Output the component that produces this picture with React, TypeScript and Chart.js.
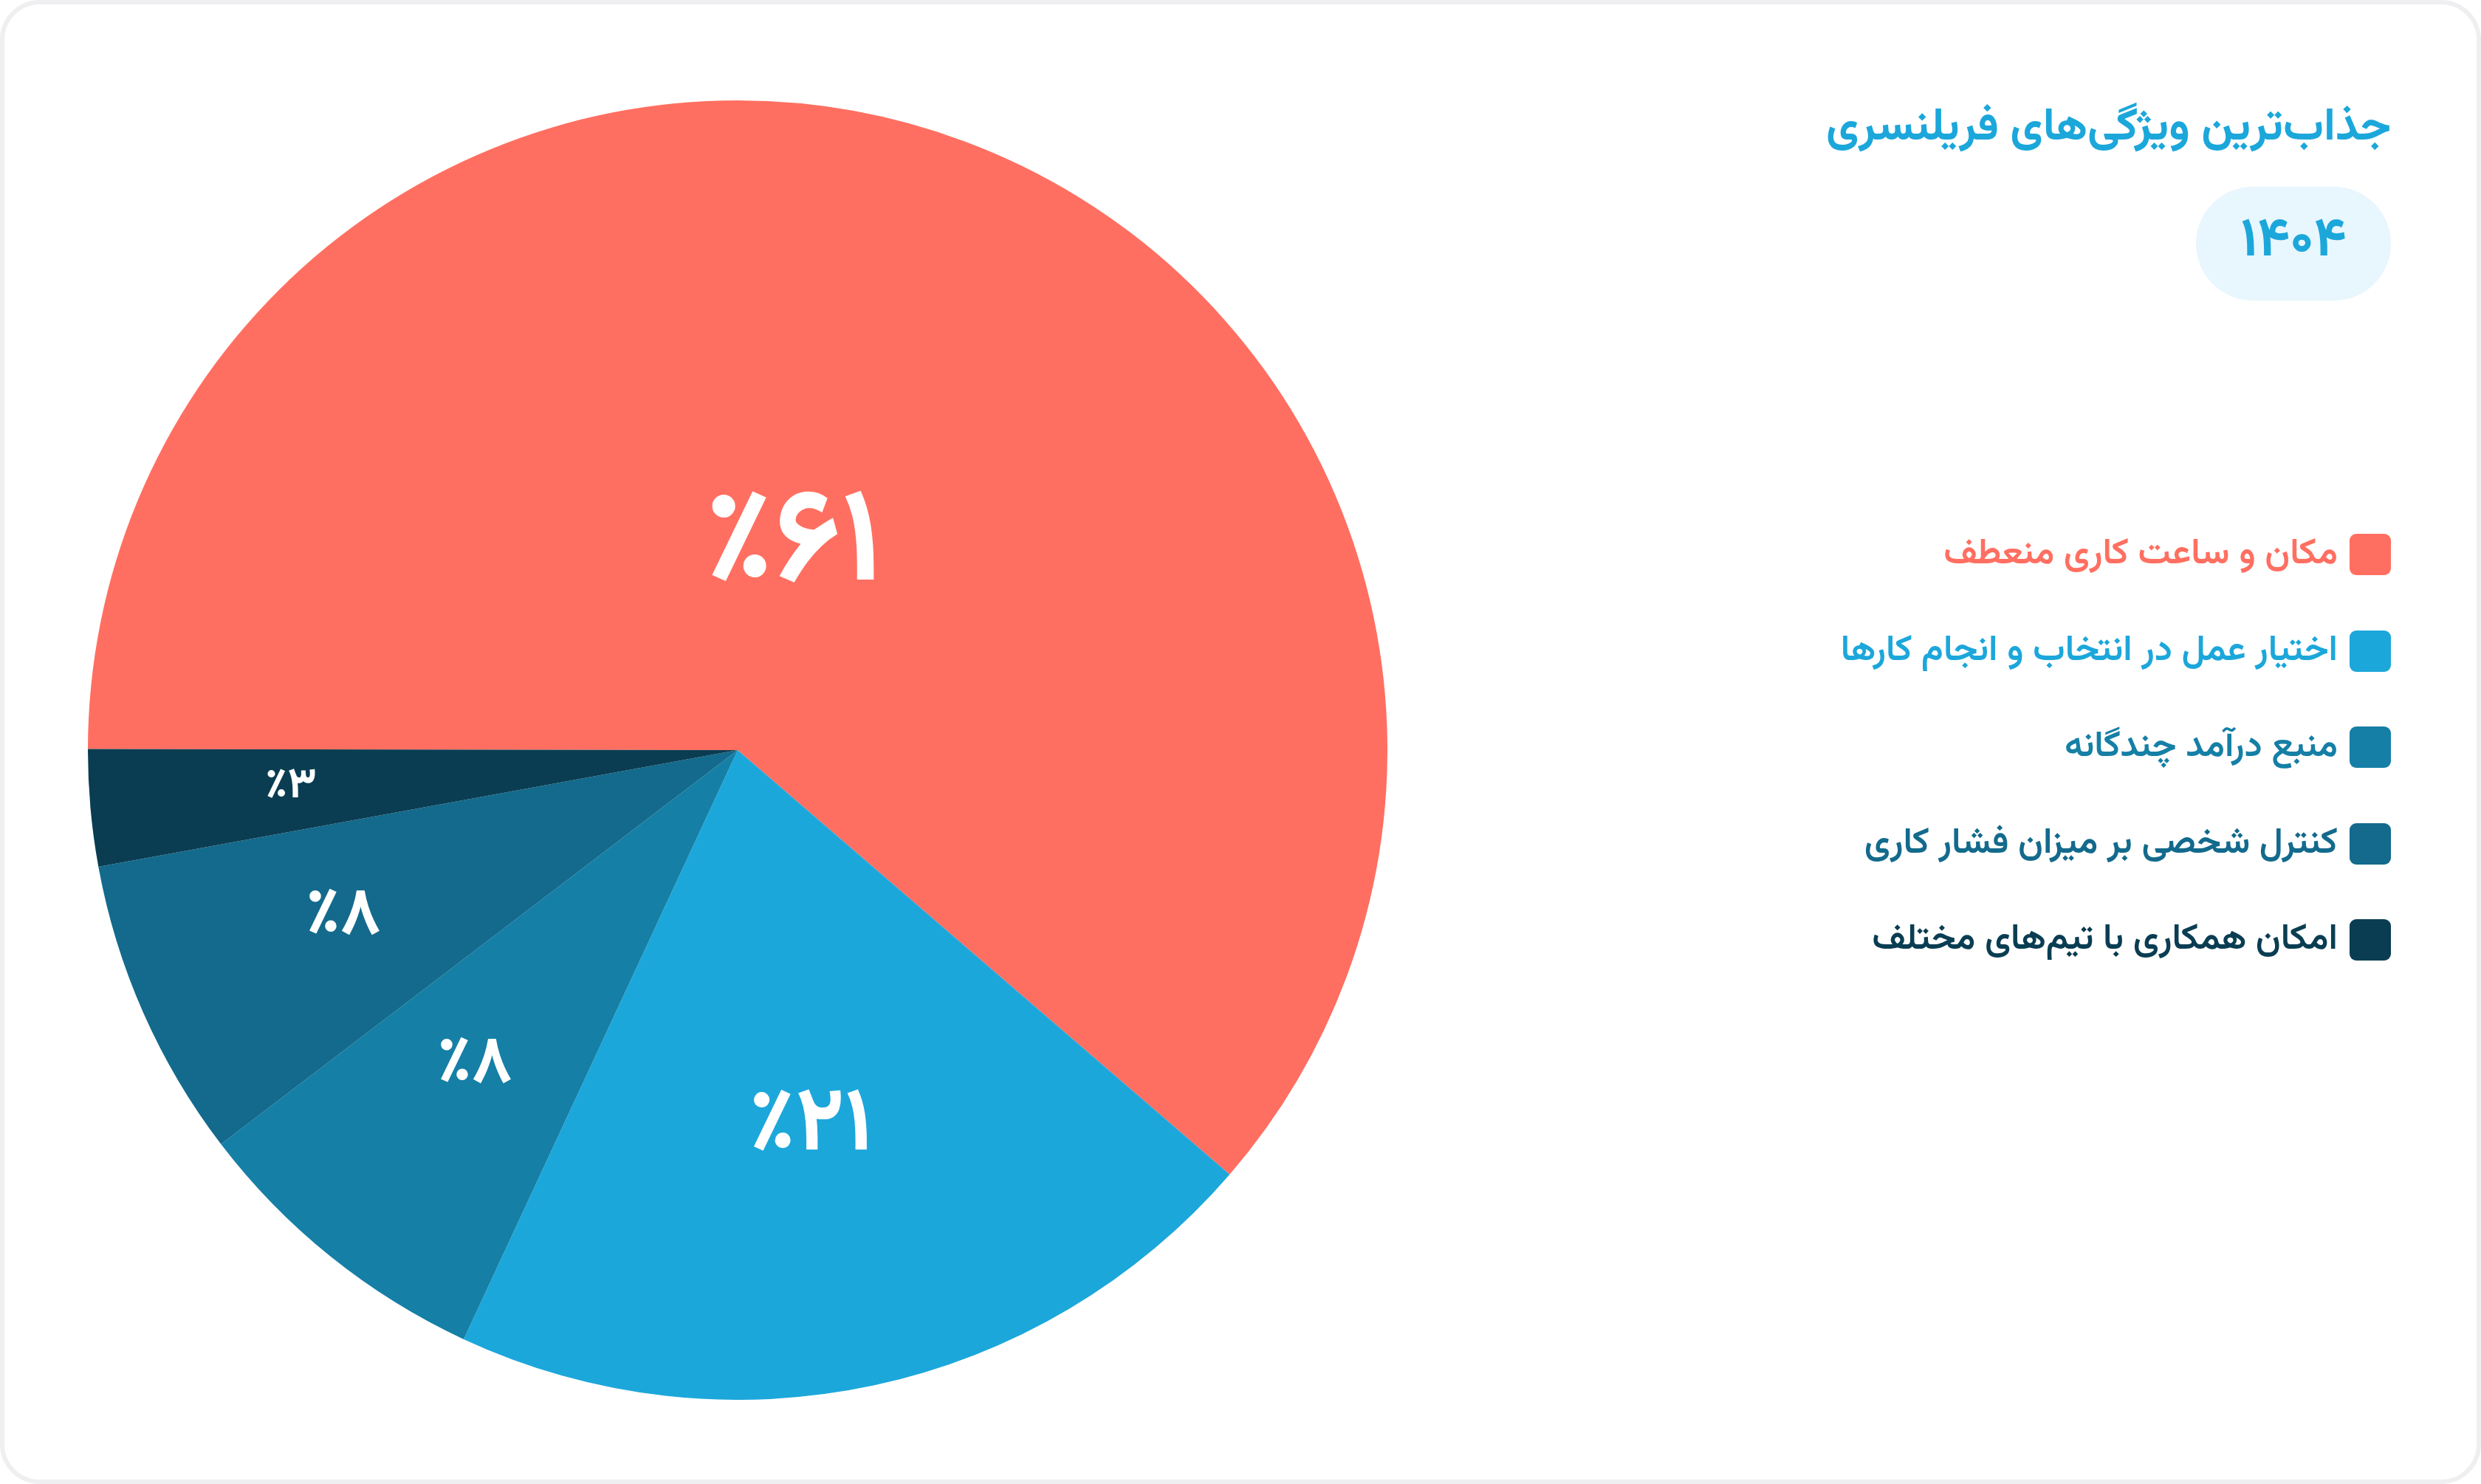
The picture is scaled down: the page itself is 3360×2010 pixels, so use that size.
import React, { useEffect, useRef } from "react";
import { Chart, registerables } from "chart.js";

Chart.register(...registerables);

// ---- data ----
const titleText = "جذاب‌ترین ویژگی‌های فریلنسری";
const yearText = "۱۴۰۴";
const categories = [
  "مکان و ساعت کاری منعطف",
  "اختیار عمل در انتخاب و انجام کارها",
  "منبع درآمد چندگانه",
  "کنترل شخصی بر میزان فشار کاری",
  "امکان همکاری با تیم‌های مختلف",
];
const shares = [61.3, 20.6, 7.7, 7.5, 2.9];
const sliceColors = ["#FF6F61", "#1CA7DB", "#157FA6", "#136A8C", "#0A3D52"];

// ---- styles ----
const FONT = '"Vazirmatn", "Noto Sans Arabic", "DejaVu Sans", sans-serif';
const LABEL_FONT_SIZES = [180, 122, 90, 90, 58];
const LABEL_RADIUS = [0.334, 0.583, 0.63, 0.66, 0.693];
const LABEL_ANGLE_SHIFT = [-6.2, 1.4, 1.6, 1.5, 0.75];

const toPersianDigits = (s: string) =>
  s.replace(/[0-9]/g, (d) => "۰۱۲۳۴۵۶۷۸۹"[Number(d)]);
const formatShare = (v: number) => "٪" + toPersianDigits(String(Math.round(v)));

const sliceLabelPlugin = {
  id: "sliceLabelPlugin",
  afterDatasetsDraw(chart: any) {
    const ctx = chart.ctx;
    const meta = chart.getDatasetMeta(0);
    const values = chart.data.datasets[0].data as number[];
    meta.data.forEach((arc: any, i: number) => {
      const p = arc.getProps(["x", "y", "startAngle", "endAngle", "outerRadius"], true);
      const mid = (p.startAngle + p.endAngle) / 2 + (LABEL_ANGLE_SHIFT[i] * Math.PI) / 180;
      const r = p.outerRadius * LABEL_RADIUS[i];
      const size = LABEL_FONT_SIZES[i];
      const px = p.x + Math.cos(mid) * r + 3;
      const py = p.y + Math.sin(mid) * r + size * 0.145;
      ctx.save();
      ctx.fillStyle = "#ffffff";
      ctx.font = `700 ${size}px ${FONT}`;
      ctx.textAlign = "center";
      ctx.textBaseline = "middle";
      ctx.direction = "ltr";
      ctx.fillText(formatShare(values[i]), px, py);
      ctx.restore();
    });
  },
};

function PieChart() {
  const ref = useRef<HTMLCanvasElement | null>(null);
  useEffect(() => {
    if (!ref.current) return;
    const chart = new Chart(ref.current, {
      type: "pie",
      data: {
        labels: categories,
        datasets: [
          {
            data: shares,
            backgroundColor: sliceColors,
            borderWidth: 0,
          },
        ],
      },
      options: {
        responsive: false,
        animation: false,
        rotation: 270.1,
        layout: { padding: 0 },
        plugins: {
          legend: { display: false },
          tooltip: { enabled: false },
        },
      },
      plugins: [sliceLabelPlugin],
    });
    return () => chart.destroy();
  }, []);
  return (
    <canvas
      ref={ref}
      width={1760}
      height={1760}
      style={{ position: "absolute", left: 113, top: 130, width: 1760, height: 1760 }}
    />
  );
}

export default function App() {
  return (
    <div
      style={{
        position: "fixed",
        left: 0,
        top: 0,
        width: 3360,
        height: 2010,
        boxSizing: "border-box",
        border: "6px solid #EFEFF1",
        borderRadius: 54,
        background: "#ffffff",
        fontFamily: FONT,
        overflow: "hidden",
      }}
    >
      <PieChart />
      <div
        dir="rtl"
        style={{
          position: "absolute",
          right: 116,
          top: 126,
          fontSize: 61.5,
          lineHeight: "84px",
          fontWeight: 700,
          color: "#1CA7DB",
          whiteSpace: "nowrap",
        }}
      >
        {titleText}
      </div>
      <div
        style={{
          position: "absolute",
          left: 2968,
          top: 247,
          width: 264,
          height: 154,
          borderRadius: 77,
          background: "#E8F6FD",
          display: "flex",
          alignItems: "center",
          justifyContent: "center",
          fontSize: 74,
          fontWeight: 700,
          color: "#1CA7DB",
          paddingBottom: 4,
          boxSizing: "border-box",
        }}
      >
        {yearText}
      </div>
      <div style={{ position: "absolute", right: 116, top: 680, width: 1100 }}>
        {categories.map((c, i) => (
          <div
            key={i}
            dir="rtl"
            style={{
              display: "flex",
              alignItems: "center",
              height: 130.5,
              gap: 16,
            }}
          >
            <span
              style={{
                width: 56,
                height: 56,
                borderRadius: 9,
                background: sliceColors[i],
                flex: "0 0 auto",
              }}
            />
            <span
              style={{
                fontSize: 49,
                fontWeight: 600,
                color: sliceColors[i],
                whiteSpace: "nowrap",
              }}
            >
              {c}
            </span>
          </div>
        ))}
      </div>
    </div>
  );
}
